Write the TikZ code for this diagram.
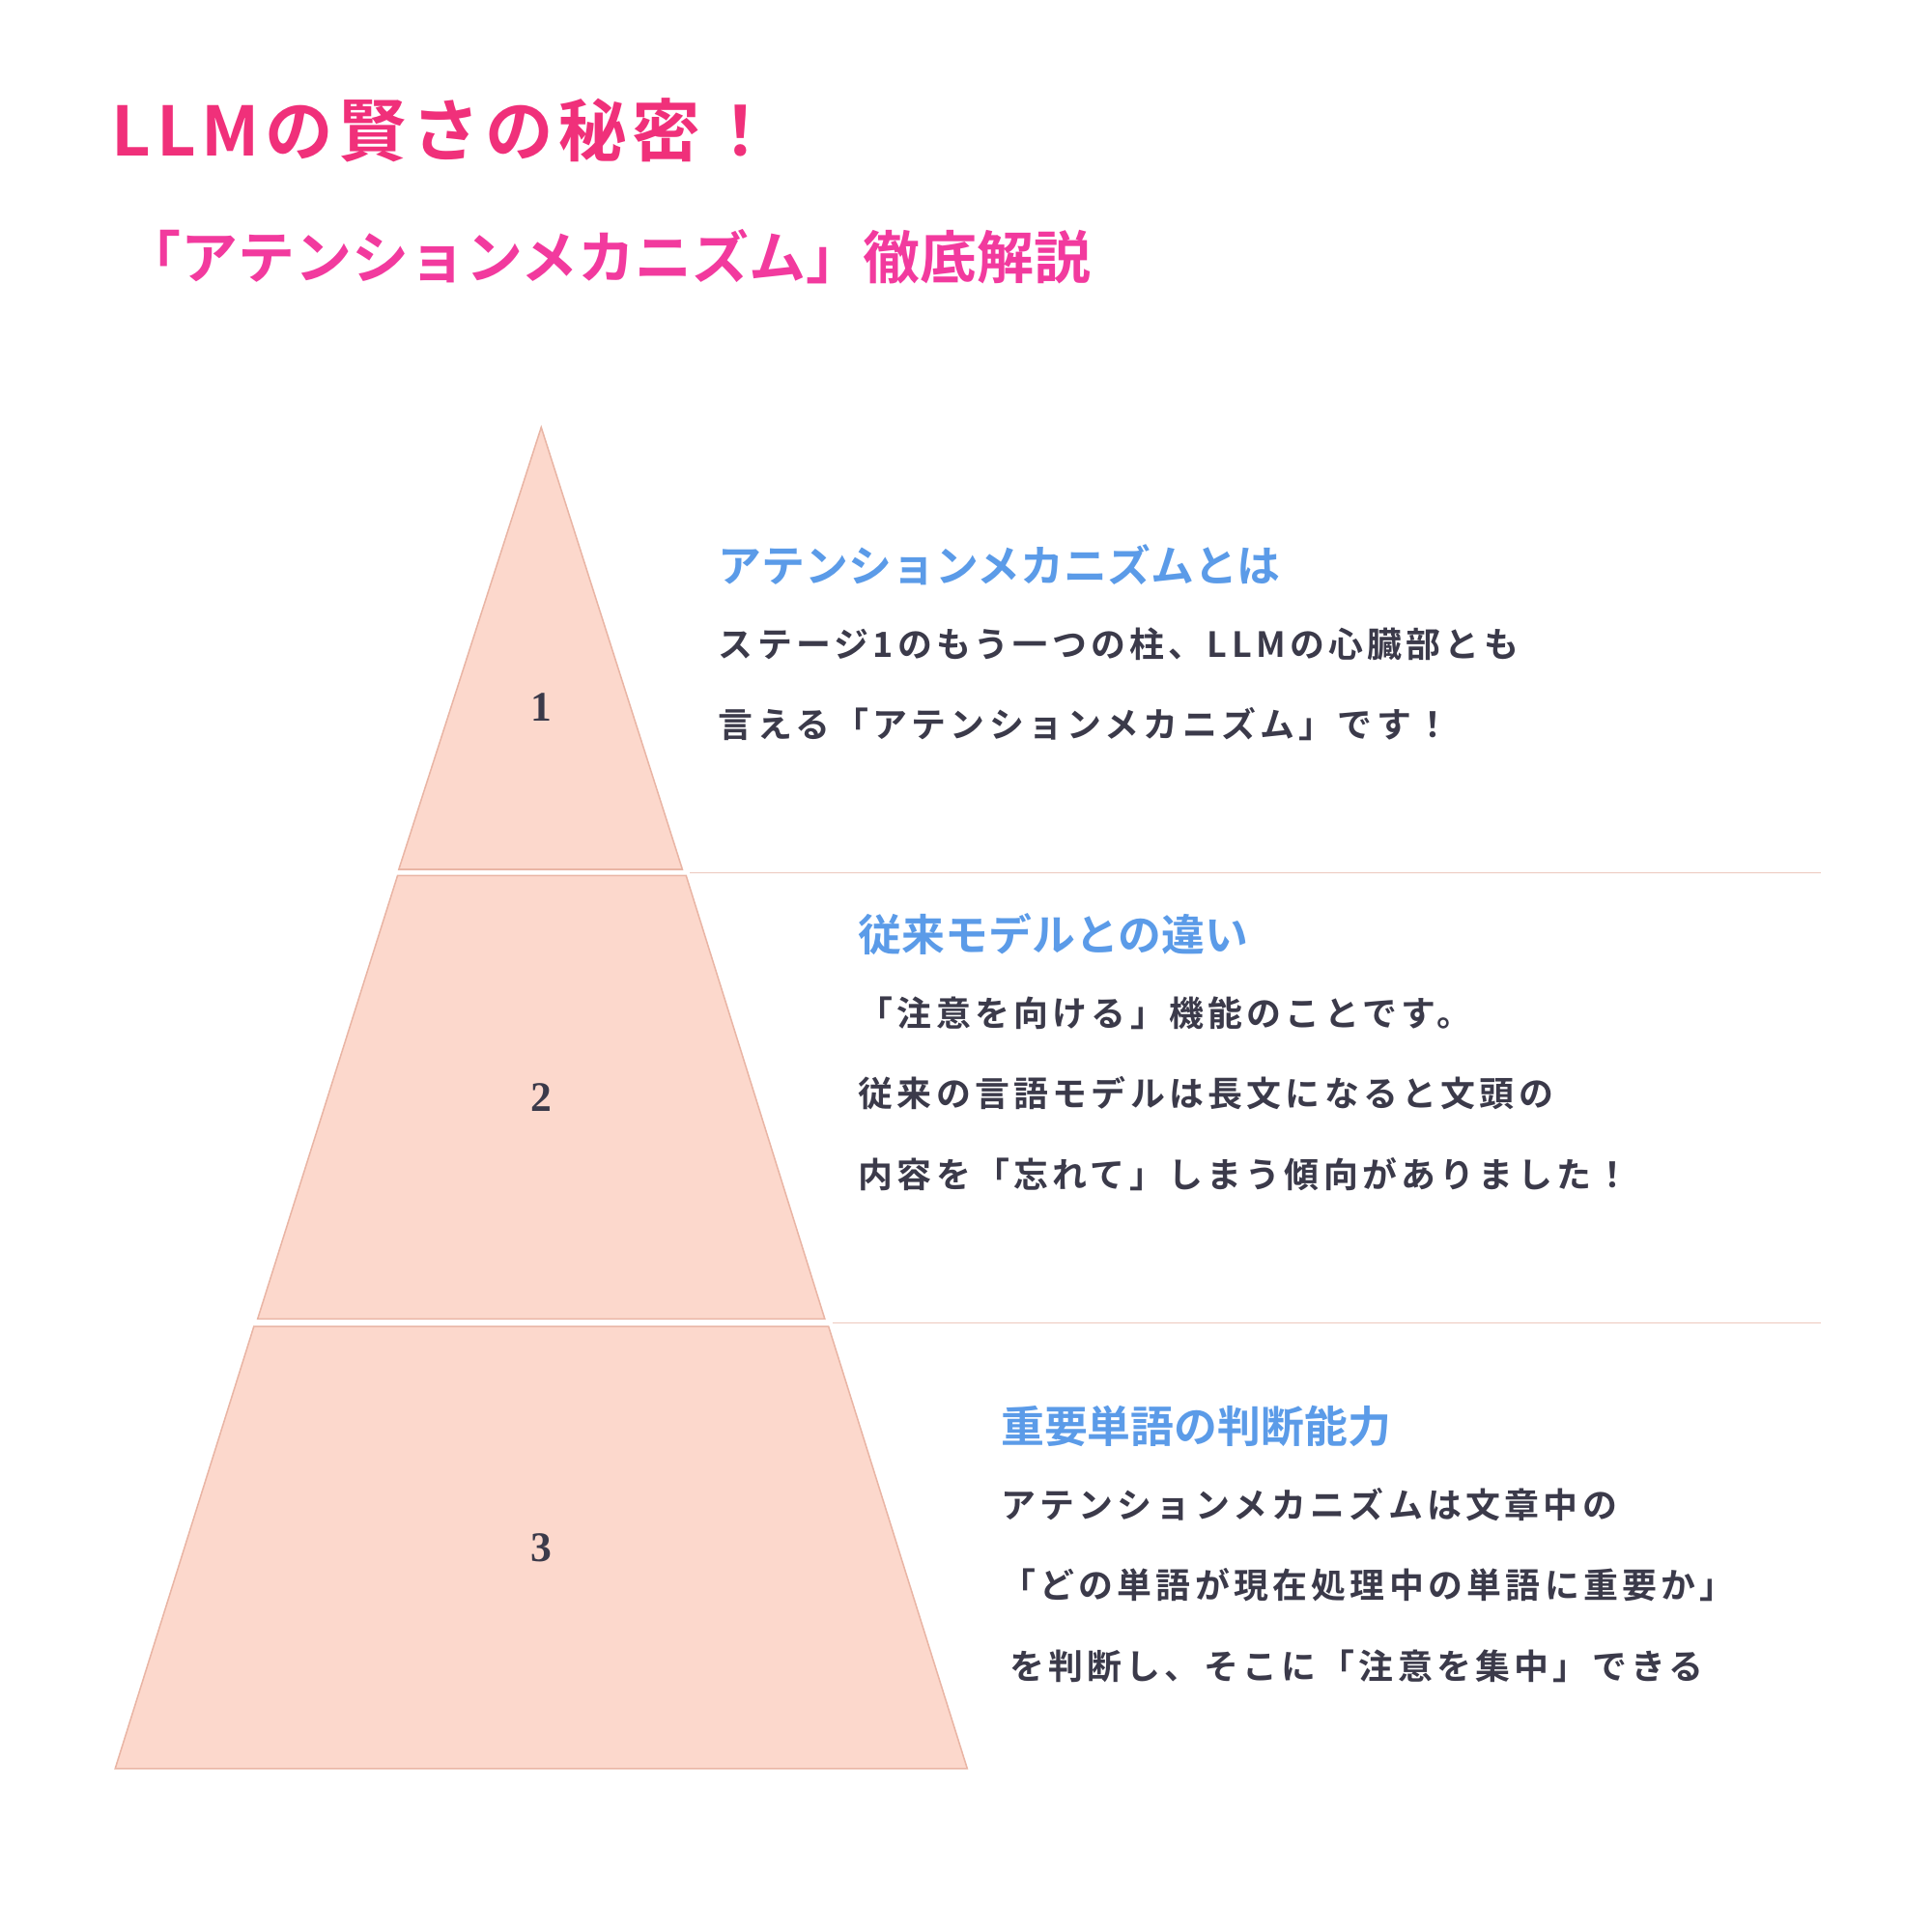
\documentclass[tikz,border=0pt]{standalone}
\usepackage{fontspec}
\setmainfont{Noto Sans CJK JP}[BoldFont={* Bold}]
\newfontfamily\jpb{Noto Sans CJK JP Bold}
\newfontfamily\jpbs{Noto Sans CJK JP Bold}[LetterSpace=12]
\newfontfamily\jpbt{Noto Sans CJK JP Bold}[LetterSpace=8]
\newfontfamily\numf{Liberation Serif}
\definecolor{fillc}{HTML}{FCD8CC}
\definecolor{strokec}{HTML}{E9B5A5}
\definecolor{headc}{HTML}{5B9BE8}
\definecolor{bodyc}{HTML}{3B3A4A}
\definecolor{titlec}{HTML}{F0307A}
\definecolor{subc}{HTML}{F23A9E}
\definecolor{linec}{HTML}{EDC8BE}
\begin{document}
\begin{tikzpicture}[x=1pt,y=-1pt,
  tier/.style={fill=fillc,draw=strokec,line width=1.2pt},
  sep/.style={draw=linec,line width=1pt},
  num/.style={font=\numf\bfseries\fontsize{34}{34}\selectfont,text=bodyc},
  head/.style={anchor=west,inner sep=0,font=\jpb\fontsize{35}{35}\selectfont,text=headc},
  body/.style={anchor=west,inner sep=0,font=\jpbs\fontsize{28}{28}\selectfont,text=bodyc}]
\useasboundingbox (0,0) rectangle (1560,1560);
\draw[tier] (437,345) -- (551,702) -- (322,702) -- cycle;
\draw[tier] (321,707) -- (554,707) -- (666,1065) -- (208,1065) -- cycle;
\draw[tier] (205,1071) -- (669,1071) -- (781,1428) -- (93,1428) -- cycle;
\coordinate (l1a) at (557,705); \coordinate (l1b) at (1470,705);
\coordinate (l2a) at (672,1068); \coordinate (l2b) at (1470,1068);
\draw[sep] (l1a) -- (l1b);
\draw[sep] (l2a) -- (l2b);
\node[num] (n1) at (437,571) {1};
\node[num] (n2) at (437,886) {2};
\node[num] (n3) at (437,1250) {3};
\node[anchor=west,inner sep=0,font=\jpbt\fontsize{55}{55}\selectfont,text=titlec] (t) at (90,105) {LLMの賢さの秘密！};
\node[anchor=west,inner sep=0,font=\jpb\fontsize{46}{46}\selectfont,text=subc] (st) at (100,207) {「アテンションメカニズム」徹底解説};
\node[head] (h1) at (580,456) {アテンションメカニズムとは};
\node[body] (b11) at (580,520) {ステージ1のもう一つの柱、LLMの心臓部とも};
\node[body] (b12) at (580,585) {言える「アテンションメカニズム」です！};
\node[head] (h2) at (693,754) {従来モデルとの違い};
\node[body] (b21) at (693,818) {「注意を向ける」機能のことです。};
\node[body] (b22) at (693,883) {従来の言語モデルは長文になると文頭の};
\node[body] (b23) at (693,948) {内容を「忘れて」しまう傾向がありました！};
\node[head] (h3) at (808,1152) {重要単語の判断能力};
\node[body] (b31) at (808,1215) {アテンションメカニズムは文章中の};
\node[body] (b32) at (808,1280) {「どの単語が現在処理中の単語に重要か」};
\node[body] (b33) at (815,1345) {を判断し、そこに「注意を集中」できる};
\end{tikzpicture}
\end{document}
